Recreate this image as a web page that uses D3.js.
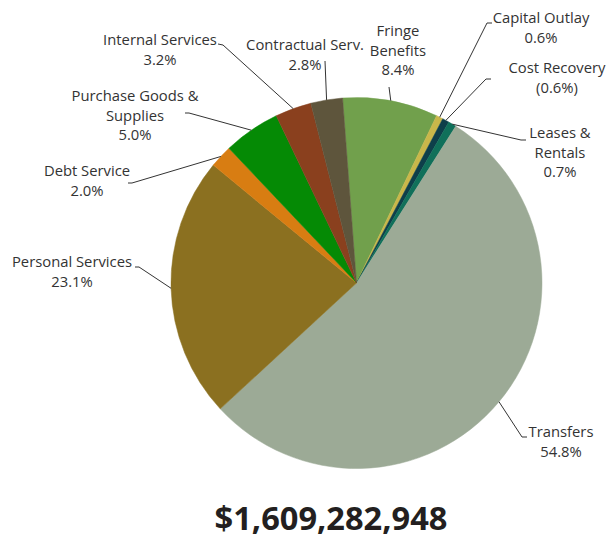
<!DOCTYPE html>
<html>
<head>
<meta charset="utf-8">
<script src="https://cdn.jsdelivr.net/npm/d3@7"></script>
<style>
  html, body { margin: 0; padding: 0; background: #fff; }
  svg { display: block; font-family: "Open Sans", sans-serif; }
</style>
</head>
<body>
<svg id="chart" width="616" height="539"></svg>
<script>
// ---- data ----
const categories = ["Fringe Benefits", "Capital Outlay", "Cost Recovery", "Leases & Rentals",
  "Transfers", "Personal Services", "Debt Service", "Purchase Goods & Supplies",
  "Internal Services", "Contractual Serv."];
const percents = [8.4, 0.6, -0.6, 0.7, 54.8, 23.1, 2.0, 5.0, 3.2, 2.8];
const pctLabels = ["8.4%", "0.6%", "(0.6%)", "0.7%", "54.8%", "23.1%", "2.0%", "5.0%", "3.2%", "2.8%"];
const labelLines = [["Fringe", "Benefits"], ["Capital Outlay"], ["Cost Recovery"], ["Leases &", "Rentals"],
  ["Transfers"], ["Personal Services"], ["Debt Service"], ["Purchase Goods &", "Supplies"],
  ["Internal Services"], ["Contractual Serv."]];
const colors = ["#71a04c", "#c9b74a", "#0e3f4a", "#10705a", "#9caa96", "#8b7020",
  "#d87d12", "#058a05", "#8a401e", "#5e553c"];
const totalLabel = "$1,609,282,948";

// ---- layout (label placement, not data) ----
// x,y: text centre / first baseline; end: connector end near label; knee: optional bend
const labelLayout = [
  {x: 398, y: 36, end: [389, 87], knee: null},
  {x: 541, y: 23, end: [492, 23], knee: [487, 23]},
  {x: 557, y: 73, end: [491, 79], knee: [486, 79]},
  {x: 560, y: 138, end: [526, 140], knee: [521, 140]},
  {x: 561, y: 437, end: [527, 437], knee: [522, 437]},
  {x: 72, y: 267, end: [135, 267], knee: [139, 267]},
  {x: 87, y: 176, end: [128, 183], knee: [132, 183]},
  {x: 135, y: 101, end: [185, 113], knee: [189, 113]},
  {x: 160, y: 45, end: [218, 44], knee: [223, 45]},
  {x: 305, y: 50, end: [325, 61], knee: null}
];

const cx = 356.5, cy = 283, r = 185.5;
const svg = d3.select("#chart");
const g = svg.append("g").attr("transform", `translate(${cx},${cy})`);

const data = categories.map((c, i) => ({name: c, value: Math.abs(percents[i]), i}));
const startDeg = -4.3;
const pie = d3.pie().sort(null).value(d => d.value)
  .startAngle(startDeg * Math.PI / 180).endAngle((startDeg + 360) * Math.PI / 180);
const arcs = pie(data);
const arc = d3.arc().innerRadius(0).outerRadius(r);

g.selectAll("path.slice").data(arcs).join("path")
  .attr("class", "slice")
  .attr("d", arc)
  .attr("fill", d => colors[d.data.i])
  .attr("stroke", d => colors[d.data.i])
  .attr("stroke-width", 0.5);

// connectors
const conn = svg.append("g");
arcs.forEach(a => {
  const i = a.data.i;
  const L = labelLayout[i];
  const mid = (a.startAngle + a.endAngle) / 2;
  const px = cx + r * Math.sin(mid), py = cy - r * Math.cos(mid);
  const pts = [[px, py]];
  if (L.knee) pts.push(L.knee);
  pts.push(L.end);
  conn.append("path")
    .attr("d", d3.line()(pts))
    .attr("fill", "none")
    .attr("stroke", "#333")
    .attr("stroke-width", 1);
});

// labels
const lab = svg.append("g").attr("font-size", 14.8).attr("fill", "#333").attr("text-anchor", "middle");
categories.forEach((c, i) => {
  const L = labelLayout[i];
  const lines = labelLines[i].concat([pctLabels[i]]);
  const t = lab.append("text").attr("x", L.x).attr("y", L.y);
  lines.forEach((ln, k) => {
    t.append("tspan").attr("x", L.x).attr("dy", k === 0 ? 0 : 19.7).text(ln);
  });
});

svg.append("text")
  .attr("x", 331).attr("y", 530)
  .attr("text-anchor", "middle")
  .attr("font-weight", 700)
  .attr("font-size", 32.6)
  .attr("fill", "#231f20")
  .text(totalLabel);
</script>
</body>
</html>
